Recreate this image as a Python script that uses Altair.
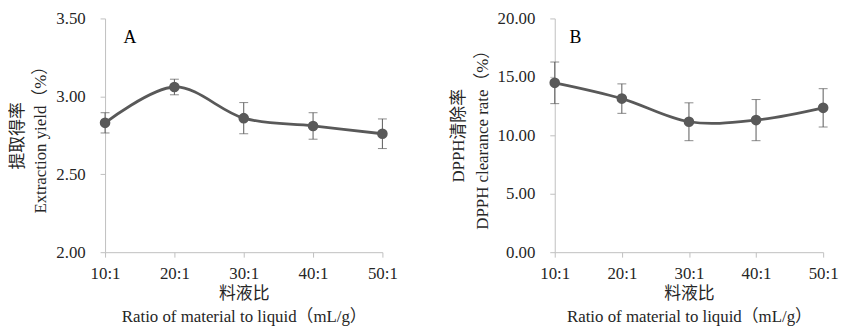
import altair as alt
import pandas as pd

ratios = ["10:1", "20:1", "30:1", "40:1", "50:1"]
yield_vals = [2.83, 3.06, 2.86, 2.81, 2.76]
yield_err = [0.065, 0.05, 0.10, 0.085, 0.095]
dpph_vals = [14.49, 13.14, 11.16, 11.30, 12.35]
dpph_err = [1.78, 1.26, 1.62, 1.76, 1.64]

yield_ticks = [2.0, 2.5, 3.0, 3.5]
dpph_ticks = [0, 5, 10, 15, 20]

x_title = ["料液比", "Ratio of material to liquid（mL/g）"]
FONT = "'Liberation Serif', 'Noto Sans CJK SC', serif"
GREY = "#595959"
AXIS_GREY = "#bfbfbf"


def panel(vals, errs, dom, ticks, ytitle, letter, width, dx):
    df = pd.DataFrame({"ratio": ratios, "v": vals, "e": errs})
    df["lo"] = df["v"] - df["e"]
    df["hi"] = df["v"] + df["e"]
    x = alt.X(
        "ratio:N",
        sort=ratios,
        scale=alt.Scale(type="point", padding=0),
        axis=alt.Axis(
            title=x_title,
            labelAngle=0,
            tickSize=5,
            labelPadding=9,
            titlePadding=4,
            titleLineHeight=23,
        ),
    )
    y = alt.Y(
        "v:Q",
        scale=alt.Scale(domain=dom, nice=False, zero=False),
        axis=alt.Axis(
            title=ytitle,
            values=ticks,
            format=".2f",
            tickSize=5,
            labelPadding=15,
            titlePadding=6,
            titleLineHeight=24,
            grid=False,
        ),
    )
    base = alt.Chart(df)
    rule = base.mark_rule(color=GREY, strokeWidth=1).encode(x=x, y="lo:Q", y2="hi:Q")
    cap_lo = base.mark_tick(color=GREY, thickness=1, size=9).encode(x=x, y="lo:Q")
    cap_hi = base.mark_tick(color=GREY, thickness=1, size=9).encode(x=x, y="hi:Q")
    line = base.mark_line(color=GREY, strokeWidth=2.8, interpolate="cardinal").encode(x=x, y=y)
    pts = base.mark_point(filled=True, color=GREY, size=115, opacity=1).encode(x=x, y=y)
    lab = alt.Chart(pd.DataFrame({"t": [letter]})).mark_text(
        fontSize=18, font=FONT, color="#000000", align="center", baseline="middle"
    ).encode(text="t:N", x=alt.value(dx), y=alt.value(20))
    return alt.layer(rule, cap_lo, cap_hi, line, pts, lab).properties(width=width, height=236)


left = panel(yield_vals, yield_err, [2.0, 3.5], yield_ticks,
             ["提取得率", "Extraction yield（%）"], "A", 280, 25)
right = panel(dpph_vals, dpph_err, [0, 20], dpph_ticks,
              ["DPPH清除率", "DPPH clearance rate（%）"], "B", 271, 21)

chart = (
    alt.hconcat(left, right, spacing=51)
    .properties(padding=0)
    .configure_view(stroke=None)
    .configure_axis(
        labelFont=FONT,
        titleFont=FONT,
        labelFontSize=17,
        titleFontSize=17,
        titleFontWeight="normal",
        labelColor="#262626",
        titleColor="#262626",
        domainColor=AXIS_GREY,
        tickColor=AXIS_GREY,
        grid=False,
    )
)

chart.save("out.html", embed_options={"renderer": "svg", "actions": False})
